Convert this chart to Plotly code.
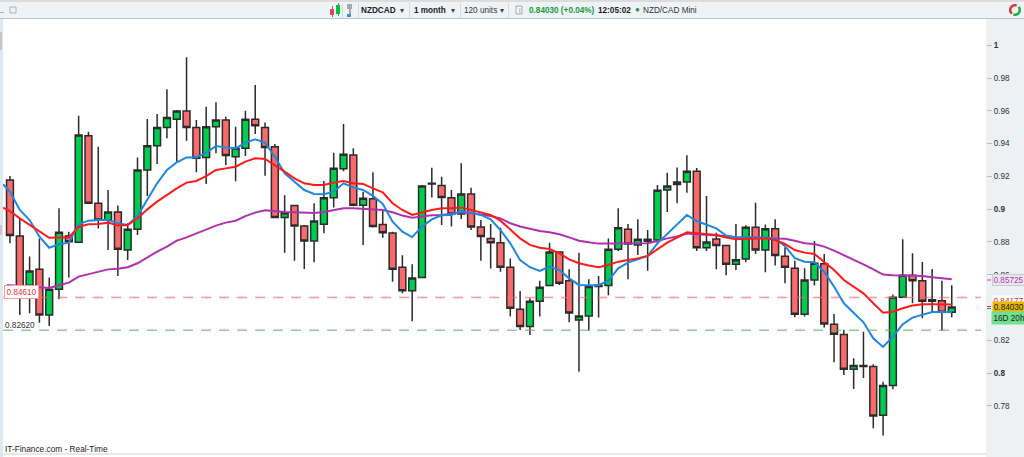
import math
import plotly.graph_objects as go

# NZDCAD monthly candles
opens = [0.9178, 0.8837, 0.8536, 0.8633, 0.8355, 0.8511, 0.8837, 0.8798, 0.9448, 0.9036,
         0.8934, 0.8983, 0.8751, 0.8877, 0.9239, 0.9387, 0.9499, 0.9548, 0.9599, 0.9499,
         0.9316, 0.9503, 0.9544, 0.9320, 0.9371, 0.9548, 0.9499, 0.9381, 0.8950, 0.9022,
         0.8898, 0.8806, 0.8908, 0.9070, 0.9247, 0.9331, 0.9024, 0.9064, 0.8906, 0.8855,
         0.8646, 0.8503, 0.8583, 0.9154, 0.9144, 0.9070, 0.8971, 0.9093, 0.8891, 0.8822,
         0.8796, 0.8646, 0.8389, 0.8284, 0.8438, 0.8534, 0.8739, 0.8564, 0.8324, 0.8349,
         0.8528, 0.8534, 0.8755, 0.8877, 0.8782, 0.8816, 0.8812, 0.9117, 0.9150, 0.9166,
         0.9231, 0.8765, 0.8818, 0.8778, 0.8664, 0.8696, 0.8890, 0.8751, 0.8881, 0.8713,
         0.8640, 0.8359, 0.8568, 0.8668, 0.8298, 0.8235, 0.8024, 0.8046, 0.8040, 0.7743,
         0.7924, 0.8463, 0.8597, 0.8564, 0.8438, 0.8442, 0.8371]
highs = [0.9202, 0.8944, 0.8711, 0.8822, 0.8583, 0.9005, 0.8863, 0.9570, 0.9473, 0.9381,
         0.9117, 0.9022, 0.8914, 0.9316, 0.9550, 0.9580, 0.9731, 0.9605, 0.9926, 0.9544,
         0.9625, 0.9652, 0.9564, 0.9503, 0.9601, 0.9757, 0.9528, 0.9397, 0.9085, 0.9026,
         0.8904, 0.9036, 0.9172, 0.9345, 0.9520, 0.9371, 0.9107, 0.9225, 0.8989, 0.8863,
         0.8719, 0.8664, 0.9148, 0.9253, 0.9198, 0.9117, 0.9280, 0.9131, 0.8934, 0.8910,
         0.8887, 0.8700, 0.8501, 0.8457, 0.8564, 0.8796, 0.8741, 0.8633, 0.8735, 0.8572,
         0.8593, 0.8822, 0.9005, 0.8910, 0.8938, 0.8873, 0.9148, 0.9223, 0.9255, 0.9329,
         0.9251, 0.9081, 0.8857, 0.8782, 0.8910, 0.8902, 0.9040, 0.8906, 0.8938, 0.8768,
         0.8686, 0.8640, 0.8806, 0.8727, 0.8361, 0.8264, 0.8091, 0.8253, 0.8054, 0.7948,
         0.8479, 0.8816, 0.8731, 0.8678, 0.8635, 0.8564, 0.8536]
lows = [0.8792, 0.8355, 0.8365, 0.8308, 0.8288, 0.8450, 0.8583, 0.8798, 0.9036, 0.8883,
        0.8751, 0.8593, 0.8690, 0.8843, 0.9080, 0.9276, 0.9432, 0.9290, 0.9418, 0.9225,
        0.9154, 0.9341, 0.9270, 0.9170, 0.9324, 0.9458, 0.9204, 0.8944, 0.8735, 0.8686,
        0.8635, 0.8676, 0.8853, 0.9011, 0.9231, 0.9018, 0.8782, 0.8889, 0.8826, 0.8558,
        0.8487, 0.8316, 0.8583, 0.9072, 0.8904, 0.8894, 0.8940, 0.8873, 0.8686, 0.8639,
        0.8619, 0.8345, 0.8263, 0.8233, 0.8345, 0.8534, 0.8538, 0.8310, 0.8009, 0.8259,
        0.8339, 0.8475, 0.8745, 0.8572, 0.8721, 0.8625, 0.8792, 0.8983, 0.9036, 0.9101,
        0.8745, 0.8745, 0.8633, 0.8597, 0.8629, 0.8676, 0.8727, 0.8615, 0.8656, 0.8548,
        0.8341, 0.8345, 0.8534, 0.8278, 0.8066, 0.7989, 0.7904, 0.7971, 0.7664, 0.7619,
        0.7902, 0.8463, 0.8426, 0.8335, 0.8371, 0.8259, 0.8341]
closes = [0.8839, 0.8507, 0.8623, 0.8355, 0.8511, 0.8859, 0.8802, 0.9452, 0.9036, 0.8934,
          0.8983, 0.8755, 0.8877, 0.9239, 0.9387, 0.9499, 0.9560, 0.9599, 0.9499, 0.9310,
          0.9503, 0.9544, 0.9328, 0.9371, 0.9548, 0.9509, 0.9377, 0.8950, 0.8979, 0.8898,
          0.8806, 0.8928, 0.9070, 0.9249, 0.9335, 0.9024, 0.9066, 0.8894, 0.8857, 0.8633,
          0.8503, 0.8580, 0.9141, 0.9158, 0.9072, 0.8971, 0.9093, 0.8891, 0.8833, 0.8796,
          0.8646, 0.8396, 0.8284, 0.8438, 0.8524, 0.8739, 0.8548, 0.8367, 0.8349, 0.8528,
          0.8536, 0.8755, 0.8887, 0.8788, 0.8816, 0.8804, 0.9115, 0.9142, 0.9166, 0.9231,
          0.8765, 0.8800, 0.8778, 0.8664, 0.8692, 0.8890, 0.8751, 0.8881, 0.8717, 0.8646,
          0.8359, 0.8568, 0.8670, 0.8300, 0.8237, 0.8024, 0.8046, 0.8040, 0.7739, 0.7924,
          0.8463, 0.8597, 0.8564, 0.8438, 0.8448, 0.8371, 0.8403]

# moving averages, first value sits just left of the first candle
ma_blue = [0.9152, 0.9107, 0.8995, 0.8934, 0.8833, 0.8765, 0.8786, 0.8796, 0.8908, 0.8930, 0.8934,
           0.8934, 0.8914, 0.8904, 0.8958, 0.9056, 0.9158, 0.9239, 0.9286, 0.9316, 0.9316,
           0.9345, 0.9385, 0.9377, 0.9371, 0.9406, 0.9426, 0.9406, 0.9320, 0.9219, 0.9168,
           0.9117, 0.9093, 0.9091, 0.9107, 0.9158, 0.9133, 0.9117, 0.9081, 0.9032, 0.8924,
           0.8863, 0.8830, 0.8894, 0.8938, 0.8963, 0.8965, 0.8989, 0.8979, 0.8965, 0.8938,
           0.8873, 0.8792, 0.8690, 0.8646, 0.8623, 0.8650, 0.8629, 0.8578, 0.8538, 0.8536,
           0.8536, 0.8564, 0.8639, 0.8674, 0.8694, 0.8715, 0.8792, 0.8849, 0.8904, 0.8965,
           0.8928, 0.8906, 0.8883, 0.8839, 0.8827, 0.8829, 0.8827, 0.8827, 0.8822, 0.8776,
           0.8701, 0.8680, 0.8676, 0.8619, 0.8528, 0.8426, 0.8365, 0.8310, 0.8213, 0.8160,
           0.8223, 0.8298, 0.8339, 0.8357, 0.8373, 0.8373, 0.8371]
ma_red = [0.9009, 0.8989, 0.8944, 0.8904, 0.8863, 0.8826, 0.8828, 0.8828, 0.8893, 0.8908, 0.8910,
          0.8918, 0.8900, 0.8904, 0.8944, 0.8999, 0.9046, 0.9087, 0.9127, 0.9162, 0.9172,
          0.9202, 0.9239, 0.9249, 0.9259, 0.9290, 0.9310, 0.9306, 0.9270, 0.9229, 0.9188,
          0.9158, 0.9148, 0.9148, 0.9162, 0.9172, 0.9158, 0.9154, 0.9127, 0.9103, 0.9036,
          0.8995, 0.8965, 0.8981, 0.8995, 0.9005, 0.9005, 0.9011, 0.8995, 0.8981, 0.8965,
          0.8930, 0.8873, 0.8822, 0.8782, 0.8765, 0.8757, 0.8731, 0.8694, 0.8670, 0.8656,
          0.8646, 0.8660, 0.8680, 0.8690, 0.8700, 0.8715, 0.8755, 0.8796, 0.8827, 0.8859,
          0.8853, 0.8847, 0.8843, 0.8827, 0.8816, 0.8820, 0.8820, 0.8822, 0.8812, 0.8788,
          0.8751, 0.8735, 0.8727, 0.8680, 0.8629, 0.8568, 0.8528, 0.8487, 0.8426, 0.8369,
          0.8375, 0.8396, 0.8412, 0.8420, 0.8420, 0.8418, 0.8418]
ma_purple = [0.8538, 0.8536, 0.8532, 0.8528, 0.8524, 0.8519, 0.8536, 0.8552, 0.8589, 0.8605, 0.8619,
             0.8633, 0.8637, 0.8646, 0.8670, 0.8706, 0.8741, 0.8772, 0.8808, 0.8828, 0.8853,
             0.8879, 0.8900, 0.8918, 0.8930, 0.8958, 0.8979, 0.8993, 0.8987, 0.8983, 0.8981,
             0.8977, 0.8977, 0.8983, 0.8995, 0.9005, 0.9005, 0.9003, 0.8999, 0.8995, 0.8981,
             0.8961, 0.8948, 0.8957, 0.8963, 0.8965, 0.8975, 0.8981, 0.8975, 0.8965, 0.8959,
             0.8944, 0.8914, 0.8894, 0.8879, 0.8867, 0.8859, 0.8847, 0.8828, 0.8808, 0.8798,
             0.8790, 0.8790, 0.8790, 0.8790, 0.8792, 0.8792, 0.8806, 0.8822, 0.8833, 0.8851,
             0.8847, 0.8845, 0.8843, 0.8837, 0.8829, 0.8829, 0.8829, 0.8827, 0.8822, 0.8820,
             0.8808, 0.8792, 0.8788, 0.8772, 0.8747, 0.8721, 0.8694, 0.8664, 0.8633, 0.8601,
             0.8597, 0.8597, 0.8597, 0.8593, 0.8585, 0.8579, 0.8573]

level_red = 0.84610
level_green = 0.82620

tick_vals = [1, 0.98, 0.96, 0.94, 0.92, 0.9, 0.88, 0.86, 0.82, 0.8, 0.78]
tick_text = ['<b>1</b>', '0.98', '0.96', '0.94', '0.92', '<b>0.9</b>', '0.88', '0.86', '0.82', '<b>0.8</b>', '0.78']

bars = list(range(len(closes)))
W, H = 1024, 457
FONT = 'Liberation Sans'


def px(x):
    return x / W


def py(y):
    return 1 - y / H


def box(x0, y0, x1, y1, fill, line=None, layer='below'):
    return dict(type='rect', xref='paper', yref='paper', x0=px(x0), x1=px(x1), y0=py(y0), y1=py(y1),
                fillcolor=fill, line=dict(color=line or fill, width=1 if line else 0), layer=layer)


def arc(cx, cy, r, a0, a1, color):
    pts = []
    for k in range(13):
        a = math.radians(a0 + (a1 - a0) * k / 12)
        pts.append(f'{px(cx + r * math.cos(a)):.5f},{py(cy + r * math.sin(a)):.5f}')
    return dict(type='path', xref='paper', yref='paper', path='M' + ' L'.join(pts),
                line=dict(color=color, width=2.5), layer='above')


def label(x, y, text, size=8.2, color='#333', anchor='left', **kw):
    # annotations pad their text, pull them back so x is where the text starts
    return dict(xref='paper', yref='paper', x=px(x - 2), y=py(y), text=text, showarrow=False,
                xanchor=anchor, yanchor='middle', align='left',
                font=dict(family=FONT, size=size, color=color), **kw)


fig = go.Figure()

fig.add_trace(go.Candlestick(
    x=bars, open=opens, high=highs, low=lows, close=closes,
    increasing=dict(fillcolor='#00cc4e', line=dict(color='#2b2b2b', width=1.5)),
    decreasing=dict(fillcolor='#f86a6c', line=dict(color='#2b2b2b', width=1.5)),
    whiskerwidth=0, hoverinfo='skip', showlegend=False,
))

fig.add_trace(go.Scatter(x=[-0.3] + bars, y=ma_purple, mode='lines', hoverinfo='skip', showlegend=False,
                         line=dict(color='#b030b0', width=2)))
fig.add_trace(go.Scatter(x=[-0.7] + bars, y=ma_blue, mode='lines', hoverinfo='skip', showlegend=False,
                         line=dict(color='#1e88e0', width=2)))
fig.add_trace(go.Scatter(x=[-0.7] + bars, y=ma_red, mode='lines', hoverinfo='skip', showlegend=False,
                         line=dict(color='#ff1a1a', width=2)))

# support / resistance levels
fig.add_trace(go.Scatter(x=[-0.7, 99], y=[level_red, level_red], mode='lines', hoverinfo='skip', showlegend=False,
                         line=dict(color='rgba(255,100,100,0.65)', width=1.5, dash='10px,8px')))
fig.add_trace(go.Scatter(x=[-0.7, 99], y=[level_green, level_green], mode='lines', hoverinfo='skip', showlegend=False,
                         line=dict(color='rgba(90,175,90,0.65)', width=1.5, dash='10px,8px')))

shapes = [
    box(0, 0, W, 2, '#dcdcdc'),
    box(0, 2, W, 18, '#eef3f7'),
    box(0, 18, W, 19, '#b8c4c8'),
    box(0, 19, 3, H, '#dfe9f1'),
    box(0, 32, 2, 50, '#c8c8c8'),
    box(0, 225, 2, 235, '#c8c8c8'),
    box(986, 19, W, H, '#edf1f4'),
    box(3, 453, 986, 455, '#e8e8e8'),
    # window buttons
    box(0, 12, 4, 13, '#b0b0b0'),
    box(10, 7, 16, 13, '#eef3f7', '#b0b0b0'),
    # toolbar separators
    box(358, 3, 359, 18, '#d4dade'),
    box(409, 3, 410, 18, '#d4dade'),
    box(460, 3, 461, 18, '#d4dade'),
    box(508, 3, 509, 18, '#d4dade'),
    box(342, 3, 343, 18, '#d4dade'),
    # candle icon
    box(332, 6, 333, 17, '#777', layer='above'),
    box(330, 9, 334, 15, '#ee4455', layer='above'),
    box(338, 3, 339, 16, '#777', layer='above'),
    box(336, 5, 340, 14, '#00c040', layer='above'),
    # flag icon
    box(347, 4, 352, 9, '#a8a8a8', layer='above'),
    box(349, 9, 351, 14, '#a8a8a8', layer='above'),
    box(347, 14, 351, 17, '#4a90d8', layer='above'),
    # info icon
    box(516, 6, 522, 14, '#f4f4f4', '#a8a8a8', layer='above'),
    # refresh icon
    arc(1015, 10, 4.8, 130, 290, '#e83030'),
    arc(1015, 10, 4.8, 320, 470, '#20b040'),
    # level tag ticks on the price axis
    box(987, 279.5, 991, 280.5, '#c040c0', layer='above'),
    box(987, 306, 991, 307, '#e03030', layer='above'),
    box(987, 308, 991, 309, '#1e88e0', layer='above'),
]

annotations = [
    label(361, 10, '<b>NZDCAD</b>', color='#222'),
    label(400, 10, '▾', size=8, color='#444'),
    label(414, 10, '<b>1 month</b>', color='#222'),
    label(451, 10, '▾', size=8, color='#444'),
    label(464, 10, '120 units', color='#333'),
    label(500, 10, '▾', size=8, color='#444'),
    label(518.5, 10, 'i', size=7, color='#888'),
    label(529, 10, '<b>0.84030 (+0.04%)</b>', color='#1a9a3a'),
    label(598, 10, '<b>12:05:02</b>', color='#222'),
    label(635, 9.5, '●', size=8, color='#1a9a3a'),
    label(643, 10, 'NZD/CAD Mini', color='#333'),
    label(5, 449, 'IT-Finance.com - Real-Time', size=8.3, color='#222'),
    label(6, 291.5, '0.84610', color='#e83030', bgcolor='white', bordercolor='#f8a0a0', borderwidth=1, borderpad=1.5),
    label(5, 325, '0.82620', color='#333'),
    label(994, 280, '0.85725', color='#c030c0', bgcolor='#e6e9ef', bordercolor='#cccccc', borderwidth=1, borderpad=0.5),
    label(994, 301, '0.84177', color='#e03030', bgcolor='#ffffff', borderpad=0.5),
    label(994, 307, '0.84030', color='#222', bgcolor='#e8b800', borderpad=0.8),
    label(993, 318, '16D 20h', color='#222', bgcolor='#6fe08e', borderpad=1.5),
]

fig.update_layout(
    width=W,
    height=H,
    margin=dict(l=0, r=0, t=0, b=0),
    paper_bgcolor='white',
    plot_bgcolor='rgba(0,0,0,0)',
    showlegend=False,
    boxgap=0,
    shapes=shapes,
    annotations=annotations,
    xaxis=dict(domain=[px(3), px(986)], range=[-0.71, 99.49], visible=False, rangeslider=dict(visible=False)),
    yaxis=dict(
        domain=[py(453), py(19)], range=[0.7513, 1.016], side='right', showgrid=False, zeroline=False,
        tickmode='array', tickvals=tick_vals, ticktext=tick_text,
        ticks='outside', ticklen=5, tickcolor='#bbbbbb', tickfont=dict(family=FONT, size=8.2, color='#333'),
    ),
)

fig.write_html("out.html", config=dict(displayModeBar=False),
               post_script="document.body.style.margin='0';document.body.style.overflow='hidden';")
